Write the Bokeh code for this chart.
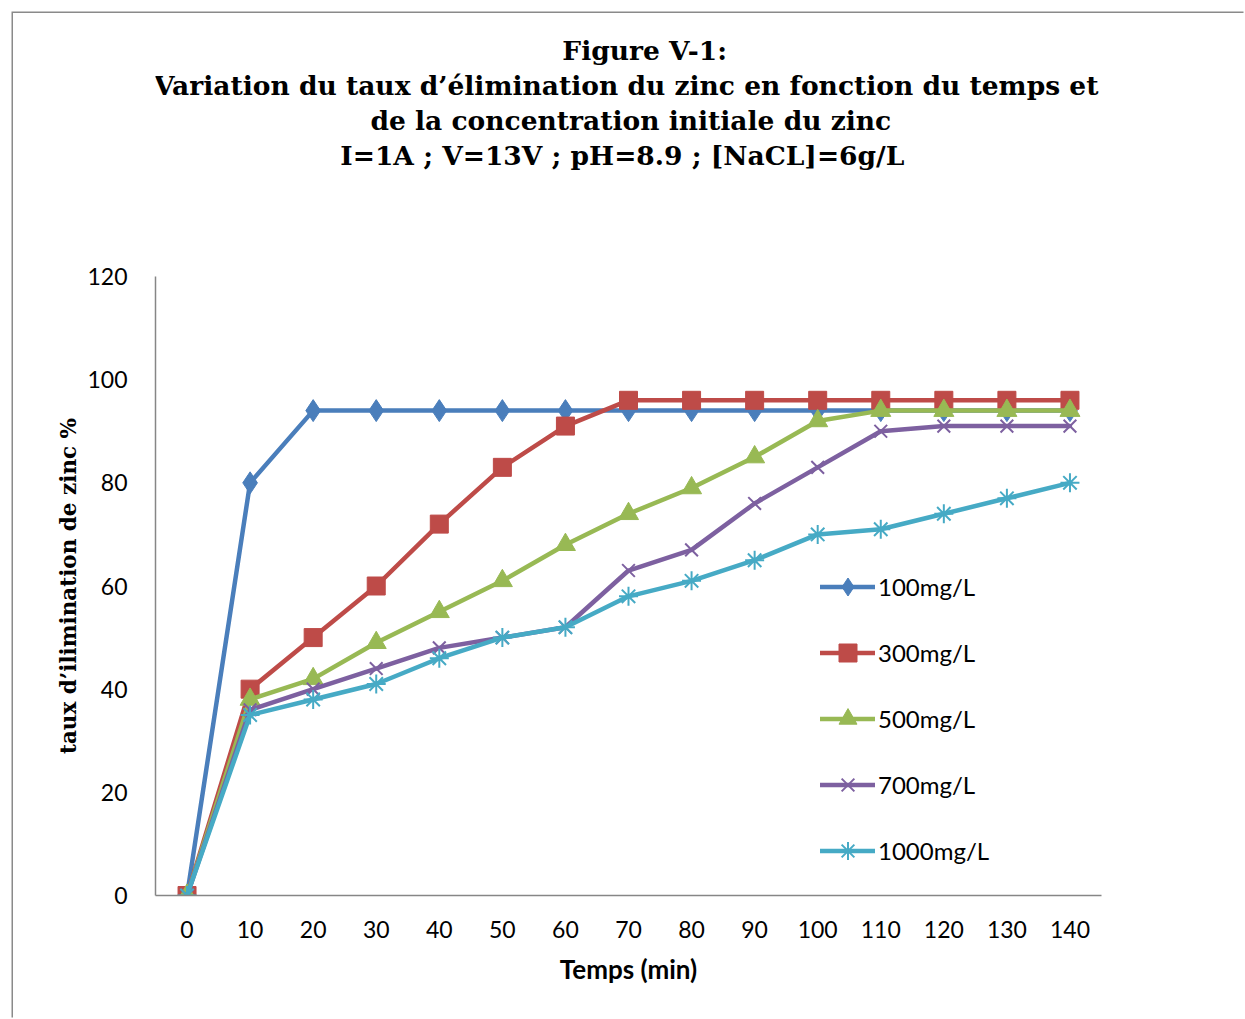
from bokeh.plotting import figure
from bokeh.layouts import column
from bokeh.models import (FactorRange, Range1d, FixedTicker, Legend, LegendItem,
                          InlineStyleSheet)
from bokeh.core.properties import value
from bokeh.embed import file_html
from bokeh.resources import INLINE

# ---------------- data ----------------
times = [0, 10, 20, 30, 40, 50, 60, 70, 80, 90, 100, 110, 120, 130, 140]
c100 = [0, 80, 94, 94, 94, 94, 94, 94, 94, 94, 94, 94, 94, 94, 94]
c300 = [0, 40, 50, 60, 72, 83, 91, 96, 96, 96, 96, 96, 96, 96, 96]
c500 = [0, 38, 42, 49, 55, 61, 68, 74, 79, 85, 92, 94, 94, 94, 94]
c700 = [0, 36, 40, 44, 48, 50, 52, 63, 67, 76, 83, 90, 91, 91, 91]
c1000 = [0, 35, 38, 41, 46, 50, 52, 58, 61, 65, 70, 71, 74, 77, 80]
series_names = ["100mg/L", "300mg/L", "500mg/L", "700mg/L", "1000mg/L"]
y_ticks = [0, 20, 40, 60, 80, 100, 120]

title_lines = ["Figure V-1:",
               "Variation  du taux d\u2019élimination du zinc en fonction du temps et",
               "de la concentration initiale du zinc",
               "I=1A  ; V=13V ; pH=8.9 ;  [NaCL]=6g/L"]
x_title = "Temps (min)"
y_title = "taux d\u2019ilimination de zinc %"

cats = [str(t) for t in times]

# ---------------- layout geometry (page pixels) ----------------
M = 13
W = 1245 - M
FRAME_L, FRAME_R, FRAME_T, FRAME_B = 155, 1101, 276, 895
TITLE_H = FRAME_T - M - 13          # height of the title strip
MAIN_H = 1019 - M - TITLE_H
YMAX = 120

# ---------------- title strip ----------------
t = figure(width=W, height=TITLE_H, output_backend="svg", toolbar_location=None,
           x_range=Range1d(0, W), y_range=Range1d(TITLE_H, 0),
           min_border=0, x_axis_type=None, y_axis_type=None)
t.outline_line_color = None
t.grid.visible = False
t.background_fill_color = "white"
t.border_fill_color = "white"
title_cx = [650 - M, 632 - M, 632 - M, 633 - M]
title_cy = [50 - M, 85 - M, 120 - M, 155 - M]
t.text(x=title_cx, y=title_cy, text=title_lines,
       text_align="center", text_baseline="middle",
       text_font=value("DejaVu Serif"), text_font_style="bold",
       text_font_size="26.5px", text_color="black")

# ---------------- main chart ----------------
p = figure(width=W, height=MAIN_H, output_backend="svg", toolbar_location=None,
           x_range=FactorRange(factors=cats), y_range=Range1d(0, YMAX),
           min_border_left=FRAME_L - M, min_border_right=W - (FRAME_R - M),
           min_border_top=FRAME_T - M - TITLE_H, min_border_bottom=1019 - FRAME_B)

p.background_fill_color = "white"
p.border_fill_color = "white"
p.outline_line_color = None
p.xgrid.visible = False
p.ygrid.visible = False

AX = "#868686"
for ax in (p.xaxis[0], p.yaxis[0]):
    ax.axis_line_color = AX
    ax.axis_line_width = 1.5
    ax.major_tick_line_color = None
    ax.minor_tick_line_color = None
    ax.major_label_text_font = "Lato"
    ax.major_label_text_font_size = "23px"
    ax.major_label_text_color = "black"

p.yaxis[0].ticker = FixedTicker(ticks=y_ticks)
p.yaxis[0].major_label_standoff = 22
p.yaxis[0].axis_label = y_title
p.yaxis[0].axis_label_text_font = "DejaVu Serif"
p.yaxis[0].axis_label_text_font_style = "bold"
p.yaxis[0].axis_label_text_font_size = "21.5px"
p.yaxis[0].axis_label_text_color = "black"
p.yaxis[0].axis_label_standoff = 3

p.xaxis[0].major_label_standoff = 19
p.xaxis[0].axis_label = x_title
p.xaxis[0].axis_label_text_font = "Lato"
p.xaxis[0].axis_label_text_font_style = "bold"
p.xaxis[0].axis_label_text_font_size = "26px"
p.xaxis[0].axis_label_text_color = "black"
p.xaxis[0].axis_label_standoff = 12

colors = ["#4a7ebb", "#be4b48", "#98b954", "#7d60a0", "#46aac5"]
values = [c100, c300, c500, c700, c1000]
markers = [
    dict(marker="diamond", size=22, fill_color=colors[0], line_color=colors[0], line_width=1),
    dict(marker="square", size=18, fill_color=colors[1], line_color=colors[1], line_width=1),
    dict(marker="triangle", size=20, fill_color=colors[2], line_color=colors[2], line_width=1),
    dict(marker="x", size=18, line_color=colors[3], line_width=2),
    dict(marker="asterisk", size=19, line_color=colors[4], line_width=2),
]

items = []
for name, vals, col, mk in zip(series_names, values, colors, markers):
    lr = p.line(x=cats, y=vals, line_color=col, line_width=4.5, line_join="round", line_cap="round")
    sr = p.scatter(x=cats, y=vals, **mk)
    items.append(LegendItem(label=name, renderers=[lr, sr]))

legend = Legend(items=items, location=(665, 22), orientation="vertical",
                glyph_width=55, glyph_height=45, label_height=45, spacing=21,
                label_standoff=3, padding=0, margin=0,
                border_line_color=None, background_fill_alpha=0,
                label_text_font="Lato", label_text_font_size="24px",
                label_text_color="black")
p.add_layout(legend, "center")

page = column(t, p, spacing=0, margin=(M, 0, 0, M))
page.stylesheets = [InlineStyleSheet(css=":host { box-shadow: -1.5px -1.5px 0 0 #8a8a8a; }")]

open("out.html", "w").write(file_html(page, INLINE))
